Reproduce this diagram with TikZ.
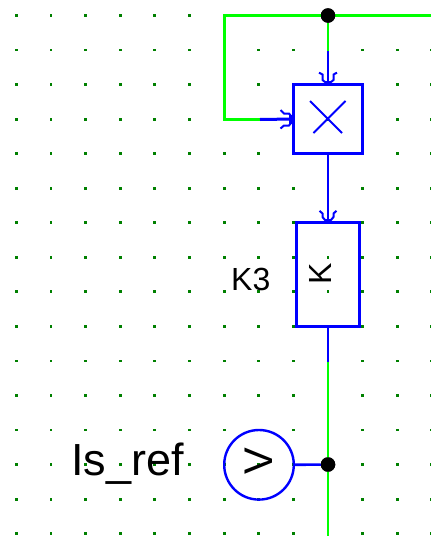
\documentclass[tikz,border=0pt]{standalone}
\usepackage{fontspec}
\setmainfont{Liberation Sans}
\definecolor{wireblue}{RGB}{0,0,255}
\definecolor{wiregreen}{RGB}{0,255,0}
\definecolor{griddot}{RGB}{0,128,0}
\tikzset{
  x=1pt,y=-1pt,
  bluewire/.style={draw=wireblue,line width=3pt},
  greenwire/.style={draw=wiregreen,line width=3pt},
  bluestem/.style={draw=wireblue,line width=2.2pt},
  greenstem/.style={draw=wiregreen,line width=2.2pt},
  blockbox/.style={draw=wireblue,line width=3pt,inner sep=0pt,outer sep=0pt,fill=none},
  footline/.style={draw=wireblue,line width=2pt,miter limit=2},
  junction/.style={circle,fill=black,minimum size=14.5pt,inner sep=0pt,outer sep=0pt},
  lbl/.style={inner sep=0pt,text=black},
}
\begin{document}
\begin{tikzpicture}
\useasboundingbox (0,0) rectangle (431,536);
\foreach \yy/\hh in {15.5/3,50/2,84.5/3,119.5/3,153.5/3,188.5/3,222.5/3,257.5/3,291.5/3,326.5/3,361/2,395.5/3,430/2,464.5/3,499.5/3,533.5/3}
  \foreach \xx/\ww in {16.5/3,51/2,85.5/3,120.5/3,154.5/3,189.5/3,224.5/3,258.5/3,293.5/3,328/2,362.5/3,397.5/3,431.5/3}
    \fill[griddot] (\xx-\ww/2,\yy-\hh/2) rectangle (\xx+\ww/2,\yy+\hh/2);
% nodes
\coordinate (corner1) at (224.5,15.5);
\coordinate (corner2) at (224.5,119.5);
\coordinate (right) at (431,15.5);
\coordinate (gb1) at (328,51);
\coordinate (gb2) at (260,119.5);
\coordinate (gb3) at (328,362);
\coordinate (bottom) at (328,536);
\node[blockbox,minimum width=69pt,minimum height=69pt] (mul) at (328,119) {};
\node[blockbox,minimum width=63pt,minimum height=104pt] (gain) at (328,274.5) {};
\node[circle,draw=wireblue,line width=2.4pt,outer sep=0pt,minimum size=69.6pt,inner sep=0pt] (volt) at (259,464.8) {};
\node[junction] (j1) at (328,15.5) {};
\node[junction] (j2) at (328,464.5) {};
% wires
\draw[greenwire] (j1) -- (right);
\draw[greenwire,line join=miter] (gb2) -- (corner2) -- (corner1) -- (j1);
\draw[bluewire] (gb2) -- (mul.west);
\draw[greenstem] (j1) -- (gb1);
\draw[bluestem] (gb1) -- (mul.north);
\draw[bluestem] (mul.south) -- (gain.north);
\draw[bluestem] (gain.south) -- (gb3);
\draw[greenstem] (gb3) -- (bottom);
\draw[greenstem] (j2) -- (gb3);
\draw[greenstem] (j2) -- (bottom);
\draw[bluestem,line width=2.6pt] (volt.east) -- (j2);
\node[junction] at (j1) {};
\node[junction] at (j2) {};
% arrow feet
\draw[footline] (319,72.7) -- (322.5,74.5) -- (322.5,80) -- (325,82) -- (331,82) -- (333.5,80) -- (333.5,74.5) -- (337,72.7);
\draw[footline] (319.5,210.8) -- (322.5,213.5) -- (322.5,217) -- (325,220) -- (331,220) -- (333.5,217) -- (333.5,213.5) -- (336.5,210.8);
\fill[wireblue] (289,115) rectangle (292,124);
\draw[footline] (280.5,110) -- (284,113.5) -- (289,113.5) -- (291,116) -- (291,123) -- (289,125.5) -- (284,125.5) -- (280.5,128.5);
% cross
\draw[wireblue,line width=1.8pt] (310,101) -- (342,133) (345.5,101) -- (313.5,133);
% labels
\node[lbl,font=\fontsize{45}{45}\selectfont,anchor=base west] (isref) at (71,475) {Is\_ref};
\node[lbl,font=\fontsize{32}{32}\selectfont,anchor=base west] (k3) at (231,290) {K3};
\node[lbl,font=\fontsize{32}{32}\selectfont,rotate=90] (kglyph) at (320.5,273.5) {K};
\node[lbl,font=\fontsize{40}{40}\selectfont,rotate=90] (vglyph) at (259,461.5) {V};
\end{tikzpicture}
\end{document}
